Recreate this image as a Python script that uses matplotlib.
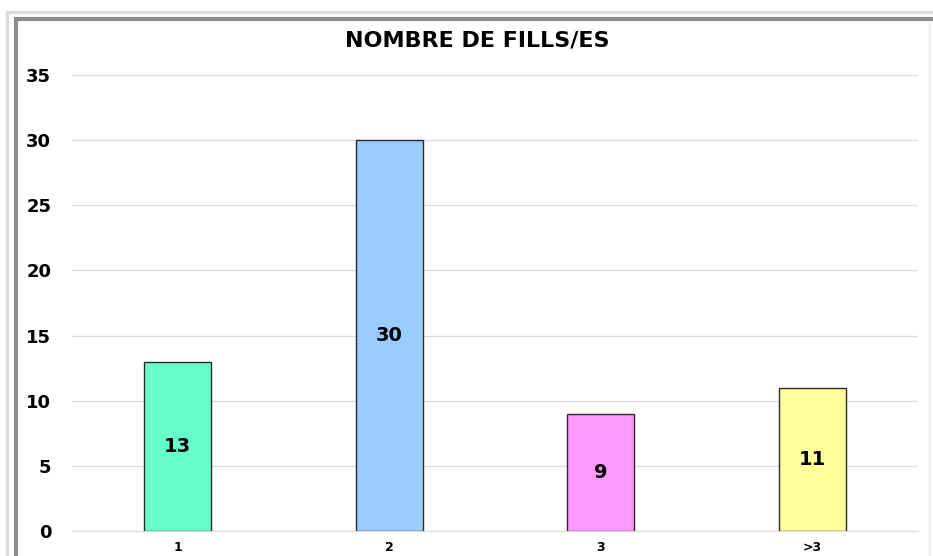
import matplotlib.pyplot as plt
from matplotlib.patches import Rectangle

# Dades del gràfic
categories = ["1", "2", "3", ">3"]
valors = [13, 30, 9, 11]
colors = ["#66FFCC", "#99CCFF", "#FF99FF", "#FFFF99"]
titol = "NOMBRE DE FILLS/ES"

plt.rcParams['font.family'] = ['DejaVu Sans']

W, H = 933, 556
fig = plt.figure(figsize=(W / 100, H / 100), dpi=100)

# Marc exterior (estil Excel, amb ombra)
fig.patches.append(Rectangle((7 / W, -0.1), (960 - 7) / W, (H - 12) / H + 0.1,
                             transform=fig.transFigure, fill=False,
                             edgecolor="#dcdcdc", linewidth=2.5))
fig.patches.append(Rectangle((16 / W, -0.1), (960 - 16) / W, (H - 19) / H + 0.1,
                             transform=fig.transFigure, fill=False,
                             edgecolor="#8c8c8c", linewidth=3))
fig.patches.append(Rectangle((929 / W, -0.1), 1 / W, (H - 21) / H + 0.1,
                             transform=fig.transFigure, fill=False,
                             edgecolor="#eeeeee", linewidth=1))

ax = fig.add_axes([72 / W, (H - 531) / H, (918 - 72) / W, 456 / H])
x = range(len(categories))
ax.bar(x, valors, width=0.316, color=colors, edgecolor="#2a2a2a",
       linewidth=1, zorder=3)

# Etiquetes al centre de cada barra
for xi, v in zip(x, valors):
    ax.text(xi, v / 2, str(v), ha="center", va="center",
            fontsize=14, fontweight="bold", zorder=4)

ax.set_xlim(-0.5, len(categories) - 0.5)
ax.set_ylim(0, 35)
ax.set_yticks(range(0, 36, 5))
ax.set_xticks(list(x))
ax.set_xticklabels(categories, fontsize=9, fontweight="bold")
for lbl in ax.get_yticklabels():
    lbl.set_fontweight("bold")
    lbl.set_fontsize(13)
ax.tick_params(axis="y", length=0, pad=15)
ax.tick_params(axis="x", length=0, pad=7)
ax.grid(axis="y", color="#dddddd", linewidth=1, zorder=0)
for s in ["left", "right", "top"]:
    ax.spines[s].set_visible(False)
ax.spines["bottom"].set_color("#dddddd")

fig.text(477 / W, (H - 40) / H, titol, ha="center", va="center",
         fontsize=16, fontweight="bold")

fig.savefig("out.png", dpi=100)
